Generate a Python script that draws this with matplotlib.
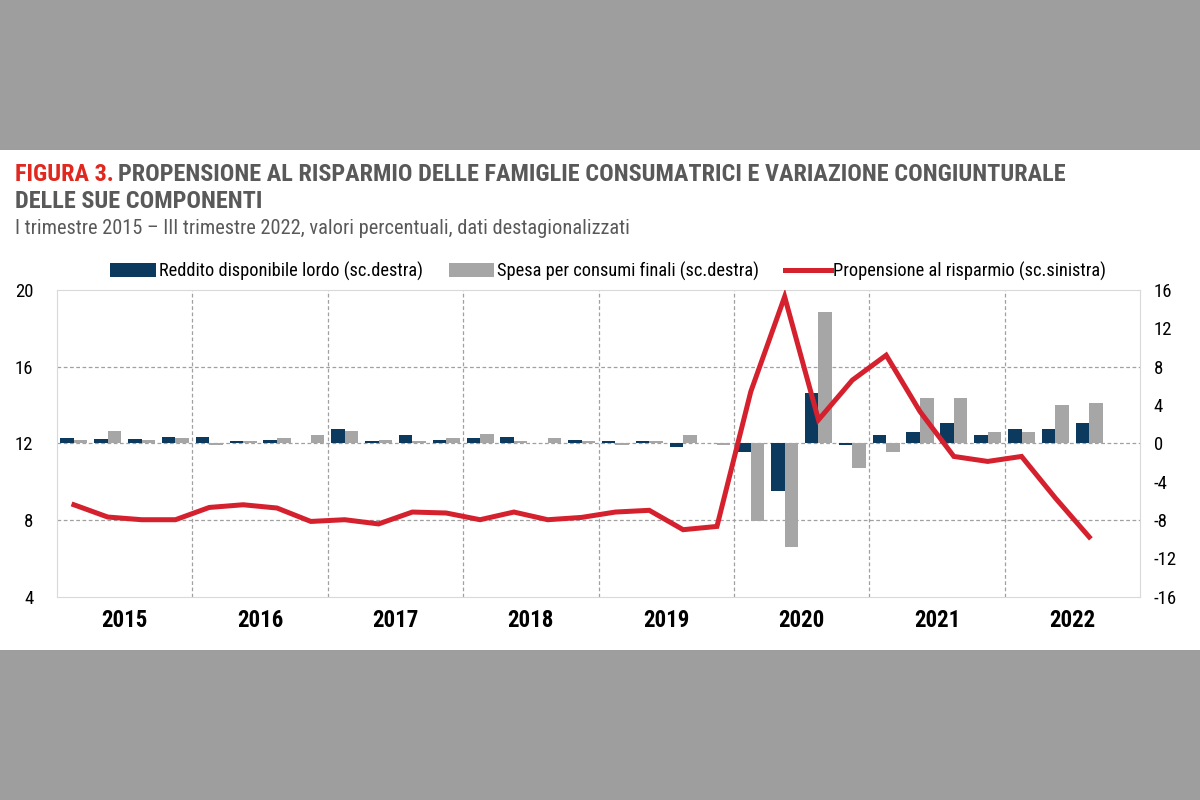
import numpy as np
import matplotlib
matplotlib.use('Agg')
import matplotlib.pyplot as plt
from matplotlib.patches import Patch, Rectangle
from matplotlib.lines import Line2D

plt.rcParams['font.family'] = ['Liberation Sans Narrow', 'Roboto Condensed', 'Liberation Sans', 'DejaVu Sans']
plt.rcParams['axes.unicode_minus'] = False

# Data: I trim. 2015 - III trim. 2022
years = ['2015', '2016', '2017', '2018', '2019', '2020', '2021', '2022']
reddito = [0.6, 0.45, 0.45, 0.7, 0.7, 0.3, 0.4, 0.0, 1.55, 0.3, 0.87, 0.4, 0.6, 0.7, 0.0, 0.4,
           0.3, 0.3, -0.35, 0.0, -0.9, -5.0, 5.3, -0.2, 0.87, 1.15, 2.1, 0.87, 1.55, 1.55, 2.1]
spesa = [0.4, 1.3, 0.4, 0.6, -0.2, 0.3, 0.6, 0.9, 1.3, 0.4, 0.3, 0.6, 1.0, 0.3, 0.6, 0.3,
         -0.15, 0.2, 0.87, -0.15, -8.1, -10.8, 13.7, -2.6, -0.9, 4.75, 4.75, 1.15, 1.15, 4.05, 4.2]
propensione = [8.8, 8.16, 8.02, 8.02, 8.66, 8.8, 8.63, 7.93, 8.02, 7.8, 8.42, 8.37, 8.02, 8.42, 8.02, 8.14,
               8.42, 8.51, 7.5, 7.67, 14.7, 19.65, 13.23, 15.3, 16.6, 13.66, 11.32, 11.06, 11.32, 9.15, 7.12]

c_dark = '#0c3a5f'
c_gray = '#a6a6a6'
c_red = '#d5202e'
c_text = '#595959'

fig = plt.figure(figsize=(12, 8), dpi=100, facecolor='#9e9e9e')
fig.add_artist(Rectangle((0, 0.1875), 1, 0.625, transform=fig.transFigure,
                         facecolor='white', edgecolor='none', zorder=0))

ax = fig.add_axes([0.0475, 0.254, 0.9025, 0.3835])
x = np.arange(len(reddito))
w = 0.4
ax.bar(x - w / 2, reddito, w, color=c_dark, zorder=3)
ax.bar(x + w / 2, spesa, w, color=c_gray, zorder=3)
ax.set_ylim(-16, 16)
ax.set_yticks(np.arange(-16, 17, 4))
ax.set_xlim(-0.5, 31.5)

# grid
for yv in [-8, 0, 8]:
    ax.axhline(yv, color='#a0a0a0', lw=0.9, ls=(0, (3, 2)), zorder=1)
for xv in np.arange(3.5, 28, 4):
    ax.axvline(xv, color='#a0a0a0', lw=0.9, ls=(0, (3, 2)), zorder=1)

ax.set_xticks(np.arange(1.5, 32, 4))
ax.set_xticklabels(years, fontsize=16.5, fontweight='bold')
for s in ax.spines.values():
    s.set_color('#d9d9d9')

# line on the left scale
ax2 = ax.twinx()
ax2.plot(x, propensione, color=c_red, lw=3.6, solid_joinstyle='miter', zorder=4)
ax2.set_ylim(4, 20)
ax2.set_yticks(np.arange(4, 21, 4))
for s in ax2.spines.values():
    s.set_visible(False)

ax.yaxis.tick_right()
ax2.yaxis.tick_left()
ax.tick_params(axis='both', length=0)
ax.tick_params(axis='x', pad=9)
ax.tick_params(axis='y', labelsize=13.5, pad=10)
ax2.tick_params(axis='y', length=0, labelsize=13.5, pad=17)

handles = [Patch(facecolor=c_dark), Patch(facecolor=c_gray), Line2D([], [], color=c_red, lw=3.6)]
labels = ['Reddito disponibile lordo (sc.destra)', 'Spesa per consumi finali (sc.destra)',
          'Propensione al risparmio (sc.sinistra)']
fig.legend(handles, labels, ncol=3, loc='center', bbox_to_anchor=(0.507, 0.661), frameon=False,
           fontsize=13.2, handlelength=2.5, handleheight=0.75, handletextpad=0.15, columnspacing=1.4)

# titles
t1 = fig.text(0.0125, 0.774, 'FIGURA 3.', color='#e0281f', fontsize=17.5, fontweight='bold')
ax.annotate('PROPENSIONE AL RISPARMIO DELLE FAMIGLIE CONSUMATRICI E VARIAZIONE CONGIUNTURALE',
            xy=(1, 0), xycoords=t1, xytext=(3, 0), textcoords='offset points', va='bottom',
            color=c_text, fontsize=17.5, fontweight='bold', annotation_clip=False)
fig.text(0.0125, 0.74, 'DELLE SUE COMPONENTI', color=c_text, fontsize=17.5, fontweight='bold')
fig.text(0.0125, 0.7075, 'I trimestre 2015 \u2013 III trimestre 2022, valori percentuali, dati destagionalizzati',
         color=c_text, fontsize=14.7)

fig.savefig('out.png', dpi=100, facecolor=fig.get_facecolor())
